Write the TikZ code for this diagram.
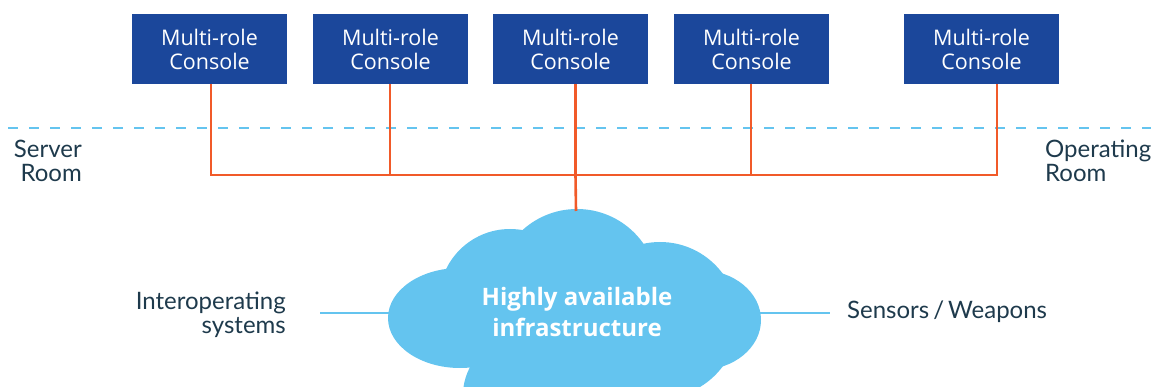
\documentclass[tikz,border=0pt]{standalone}
\usepackage{fontspec}
\setmainfont{Open Sans}
\newfontfamily\labelfont{Lato}
\usetikzlibrary{calc}
\definecolor{consoleblue}{HTML}{1B479B}
\definecolor{busorange}{HTML}{F15A29}
\definecolor{cloudblue}{HTML}{64C4EF}
\definecolor{labeldark}{HTML}{1E3A4C}
\tikzset{
  console/.style={fill=consoleblue, text=white, minimum width=155pt, minimum height=70pt,
    inner sep=0pt, align=center, font=\fontsize{21.5}{24}\selectfont},
  bus/.style={draw=busorange, line width=2.6pt},
  link/.style={draw=cloudblue, line width=2pt},
  roomline/.style={draw=cloudblue, line width=2pt, dash pattern=on 10pt off 11pt},
  lbl/.style={text=labeldark, inner sep=0pt, font=\labelfont\fontsize{24}{24}\selectfont},
  cloudtext/.style={text=white, align=center, inner sep=0pt, font=\bfseries\fontsize{24}{32}\selectfont},
}
\begin{document}
\begin{tikzpicture}[x=1pt,y=-1pt]
\useasboundingbox (0,0) rectangle (1151,387);
\clip (0,0) rectangle (1151,387);
% dashed boundary
\coordinate (dl) at (8,128);
\coordinate (dr) at (1151,128);
\draw[roomline] (dl) -- (dr);
% cloud
\begin{scope}
\fill[cloudblue] (460,318) ellipse [x radius=72, y radius=50];
\fill[cloudblue] (510,300) circle [radius=71];
\fill[cloudblue] (577,290) circle [radius=81];
\fill[cloudblue] (660,320) circle [radius=78];
\fill[cloudblue] (700,320) ellipse [x radius=61, y radius=50];
\fill[cloudblue] (522,395) circle [radius=59];
\fill[cloudblue] (632,395) circle [radius=58];
\fill[cloudblue] (575,325) ellipse [x radius=150, y radius=55];
\end{scope}
\node[cloudtext] (cloud) at (577,312) {Highly available\\infrastructure};
\coordinate (cloudtop) at (576,211);
\coordinate (cloudleft) at (390,313);
\coordinate (cloudright) at (759,313);
% consoles
\node[console] (c1) at (209.5,49) {Multi-role\\Console};
\node[console] (c2) at (390.5,49) {Multi-role\\Console};
\node[console] (c3) at (570.5,49) {Multi-role\\Console};
\node[console] (c4) at (751.5,49) {Multi-role\\Console};
\node[console] (c5) at (981.5,49) {Multi-role\\Console};
% bus
\coordinate (b1) at (211,175);
\coordinate (b2) at (390,175);
\coordinate (b3) at (575.5,175);
\coordinate (b4) at (751,175);
\coordinate (b5) at (997,175);
\draw[bus] (c1.south -| b1) -- (b1) -- (b5) -- (c5.south -| b5);
\draw[bus] (c2.south -| b2) -- (b2);
\draw[bus] (c3.south -| b3) -- (b3) -- (cloudtop);
\draw[bus] (c4.south -| b4) -- (b4);
% labels
\node[lbl, align=right, anchor=east] (server) at (82,161) {Server\\Room};
\node[lbl, align=left, anchor=west] (operating) at (1045,161) {Operating\\Room};
\node[lbl, align=right, anchor=east] (interop) at (286,315) {Interoperating\\systems};
\node[lbl, anchor=west] (sensors) at (847,312) {Sensors\,/\,Weapons};
\coordinate (il) at (320,313);
\coordinate (sr) at (830,313);
\draw[link] (il) -- (cloudleft);
\draw[link] (cloudright) -- (sr);
\end{tikzpicture}
\end{document}
